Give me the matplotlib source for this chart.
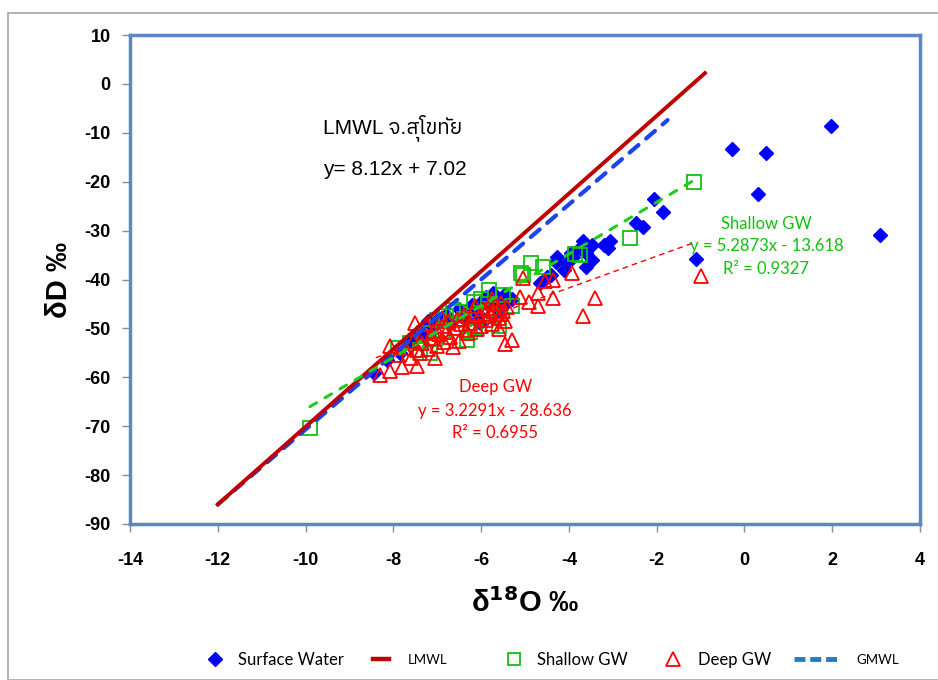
import matplotlib
matplotlib.use("Agg")
import matplotlib.pyplot as plt
from matplotlib.lines import Line2D
from matplotlib.patches import Rectangle
from matplotlib import font_manager
from matplotlib.ft2font import FT2Font

# ---------------- data ----------------
surface_x = [1.97, -0.29, 0.48, 0.32, 3.09, -1.11, -2.07, -1.86, -2.31, -2.46,
             -3.07, -3.11, -3.67, -3.48, -3.60, -3.48, -3.60, -3.90, -4.28, -4.12,
             -4.05, -4.30, -3.75, -3.20, -4.50, -4.66, -5.30, -5.64, -5.72, -5.42,
             -5.88, -6.10, -6.02, -6.32, -6.70, -7.30, -7.84, -8.14, -6.17, -6.77,
             -7.00, -7.46, -8.45, -5.50, -5.90, -6.45, -7.10, -5.60, -4.40, -3.95,
             -6.50, -6.20, -5.95, -6.80, -7.20, -5.45, -5.75, -7.60]
surface_y = [-8.7, -13.4, -14.2, -22.5, -30.9, -35.9, -23.6, -26.2, -29.3, -28.5,
             -32.2, -33.6, -32.2, -32.9, -34.6, -36.0, -37.4, -35.3, -35.3, -38.0,
             -36.7, -36.4, -33.5, -33.0, -39.4, -40.8, -44.0, -44.8, -42.8, -44.2,
             -44.8, -46.9, -48.9, -48.3, -48.9, -51.7, -55.1, -56.5, -46.2, -47.6,
             -48.3, -51.7, -59.1, -45.5, -43.6, -47.5, -49.8, -46.5, -39.0, -34.6,
             -46.0, -45.2, -44.2, -47.2, -48.4, -43.0, -43.3, -52.6]

shallow_x = [-9.90, -1.14, -2.61, -3.75, -4.58, -5.04, -4.86, -5.08, -5.83, -5.49,
             -6.17, -6.55, -7.00, -6.14, -7.16, -7.61, -6.33, -6.86, -6.63, -5.70,
             -6.00, -6.40, -7.40, -7.90, -5.30, -5.80, -6.80, -7.30, -3.85, -5.60,
             -6.25, -7.05]
shallow_y = [-70.3, -20.0, -31.6, -35.0, -37.4, -39.1, -36.6, -38.7, -42.1, -43.1,
             -44.5, -46.6, -48.3, -50.0, -55.1, -53.0, -52.4, -50.3, -46.2, -47.5,
             -44.0, -48.0, -54.5, -54.0, -45.5, -46.0, -47.5, -51.0, -34.8, -49.6,
             -50.7, -52.2]

deep_x = [-1.00, -3.40, -3.68, -3.94, -4.36, -4.36, -4.55, -4.70, -4.70, -5.04,
          -5.11, -5.30, -5.45, -5.60, -7.50, -8.07, -7.46, -7.80, -8.07, -8.30,
          -7.46, -7.90, -7.75, -7.60, -7.55, -7.40, -7.35, -7.30, -7.20, -7.15,
          -7.10, -7.00, -6.95, -6.90, -6.85, -6.80, -6.75, -6.70, -6.60, -6.55,
          -6.50, -6.45, -6.40, -6.30, -6.25, -6.20, -6.10, -6.05, -6.00, -5.95,
          -5.90, -5.85, -5.80, -5.75, -5.70, -5.65, -5.60, -5.55, -5.50, -5.45,
          -5.40, -6.65, -7.05, -6.35, -5.75, -6.90, -7.25, -6.15, -5.55, -4.90]
deep_y = [-39.3, -43.8, -47.4, -38.7, -43.8, -40.1, -40.4, -45.5, -42.8, -39.7,
          -43.5, -52.4, -53.1, -50.2, -48.9, -53.7, -54.4, -57.8, -58.8, -59.5,
          -57.6, -55.5, -54.0, -56.0, -52.5, -55.0, -53.0, -51.0, -54.2, -52.0,
          -50.5, -53.5, -51.2, -49.5, -52.8, -50.8, -48.5, -51.8, -50.0, -48.0,
          -52.5, -49.2, -47.2, -51.0, -48.8, -46.8, -50.2, -47.5, -49.5, -46.0,
          -48.2, -45.8, -47.0, -49.0, -46.5, -45.0, -47.8, -44.8, -46.4, -48.5,
          -45.6, -53.8, -56.0, -50.4, -44.0, -47.8, -49.2, -45.5, -47.0, -44.5]

lmwl_x = [-12.0, -0.9]
lmwl_y = [-86.0, 2.2]
gmwl_x = [-12.0, -1.75]
gmwl_y = [-86.0, -7.4]
shallow_trend_x = [-9.9, -1.15]
shallow_trend_y = [-66.0, -19.7]
deep_trend_x = [-8.4, -1.1]
deep_trend_y = [-56.0, -32.3]

xticks = [-14, -12, -10, -8, -6, -4, -2, 0, 2, 4]
yticks = [10, 0, -10, -20, -30, -40, -50, -60, -70, -80, -90]


# ---------------- find a font with Thai glyphs ----------------
def find_thai_family():
    cands = []
    for f in font_manager.fontManager.ttflist:
        try:
            ft = FT2Font(f.fname)
            if all(ft.get_char_index(ord(c)) for c in 'จสุโขทัย'):
                cands.append(f.name)
        except Exception:
            pass
    if not cands:
        return []
    pref = sorted(set(cands), key=lambda n: (0 if 'Sans' in n or 'Loma' in n or 'Tahoma' in n else 1,
                                             0 if 'Serif' not in n else 1, n))
    return pref[:3]


thai_fams = find_thai_family()

# ---------------- figure ----------------
fig = plt.figure(figsize=(9.38, 6.8), dpi=100)
fig.patches.append(Rectangle((8 / 938, 0), 1.0, 1 - 13 / 680, transform=fig.transFigure,
                             fill=False, edgecolor='#A6A6A6', linewidth=1.2))
ax = fig.add_axes([130 / 938, 1 - 524 / 680, 790 / 938, 489 / 680])

BLUE = '#0000FF'
LMWL_C = '#C00000'
GREEN = '#1ECC1E'
SQ_GREEN = '#11C011'
RED = '#FF0000'
GMWL_C = '#1A44EE'

ax.plot(surface_x, surface_y, linestyle='none', marker='D', markersize=7.4,
        color=BLUE, markeredgecolor=BLUE, zorder=3)
ax.plot(shallow_x, shallow_y, linestyle='none', marker='s', markersize=9.5,
        markerfacecolor='none', markeredgecolor=SQ_GREEN, markeredgewidth=1.3, zorder=4)
ax.plot(deep_x, deep_y, linestyle='none', marker='^', markersize=10,
        markerfacecolor='none', markeredgecolor=RED, markeredgewidth=1.3, zorder=5)
ax.plot(gmwl_x, gmwl_y, color=GMWL_C, linewidth=3.0, dashes=(2.8, 2.4),
        dash_capstyle='round', zorder=6)
ax.plot(lmwl_x, lmwl_y, color=LMWL_C, linewidth=2.8, zorder=6)
ax.plot(shallow_trend_x, shallow_trend_y, color=GREEN, linewidth=2.2,
        dashes=(2.5, 3.2), dash_capstyle='round', zorder=7)
ax.plot(deep_trend_x, deep_trend_y, color=RED, linewidth=1.0,
        dashes=(4, 3), zorder=7)

ax.set_xlim(-14, 4)
ax.set_ylim(-90, 10)
ax.set_xticks(xticks)
ax.set_yticks(yticks)

for s in ax.spines.values():
    s.set_edgecolor('#5B87C2')
    s.set_linewidth(2.5)

ax.set_xticklabels([str(v) for v in xticks], family=['Liberation Sans', 'DejaVu Sans'],
                   weight='bold', size=13)
ax.set_yticklabels([str(v) for v in yticks],
                   family=['Liberation Sans', 'DejaVu Sans'], weight='bold', size=13)
ax.tick_params(axis='both', direction='out', length=6, width=1, color='#8C8C8C')
ax.tick_params(axis='x', pad=14)
ax.tick_params(axis='y', pad=8)

ax.set_ylabel('δD ‰', family=['Liberation Sans', 'DejaVu Sans'], weight='bold',
              size=21, labelpad=8)
ax.set_xlabel('δ$^{\\mathbf{18}}$O ‰', family=['Liberation Sans', 'DejaVu Sans'],
              weight='bold', size=21, labelpad=14)

thai_fam = ['Liberation Sans'] + thai_fams + ['DejaVu Sans']
ax.text(-9.6, -9.0, 'LMWL จ.สุโขทัย', family=thai_fam, size=15, va='center', ha='left')
ax.text(-9.6, -17.6, 'y= 8.12x + 7.02', family=thai_fam, size=15, va='center', ha='left')

cal = ['Lato', 'DejaVu Sans']
ax.text(0.5, -28.6, 'Shallow GW', color=SQ_GREEN, family=cal, size=12, ha='center', va='center')
ax.text(0.5, -33.1, 'y = 5.2873x - 13.618', color=SQ_GREEN, family=cal, size=12, ha='center', va='center')
ax.text(0.5, -37.8, 'R² = 0.9327', color=SQ_GREEN, family=cal, size=12, ha='center', va='center')

ax.text(-5.68, -62.0, 'Deep GW', color=RED, family=cal, size=12, ha='center', va='center')
ax.text(-5.68, -66.8, 'y = 3.2291x - 28.636', color=RED, family=cal, size=12, ha='center', va='center')
ax.text(-5.68, -71.3, 'R² = 0.6955', color=RED, family=cal, size=12, ha='center', va='center')

# ---------------- legend (one small legend per entry, Excel-like spacing) ----------------
legend_entries = [
    (Line2D([], [], linestyle='none', marker='D', markersize=7, color=BLUE),
     'Surface Water', 12, 207, 1.0, 0.85),
    (Line2D([], [], color=LMWL_C, linewidth=3.2),
     'LMWL', 9.5, 373, 1.2, 1.45),
    (Line2D([], [], linestyle='none', marker='s', markersize=9, markerfacecolor='none',
            markeredgecolor=SQ_GREEN, markeredgewidth=1.3),
     'Shallow GW', 12, 506, 1.0, 0.85),
    (Line2D([], [], linestyle='none', marker='^', markersize=10, markerfacecolor='none',
            markeredgecolor=RED, markeredgewidth=1.3),
     'Deep GW', 12, 665, 1.0, 0.95),
    (Line2D([], [], color='#2878C8', linewidth=3.5, dashes=(2.25, 1.0)),
     'GMWL', 9.5, 794, 3.25, 1.45),
]
for h, lab, fs, x0, hl, htp in legend_entries:
    lg = fig.legend([h], [lab], loc='center left', bbox_to_anchor=(x0 / 938, 1 - 660 / 680),
                    frameon=False, handlelength=hl, handletextpad=htp, borderpad=0,
                    borderaxespad=0, prop={'family': cal, 'size': fs})

fig.savefig('out.png', dpi=100)
